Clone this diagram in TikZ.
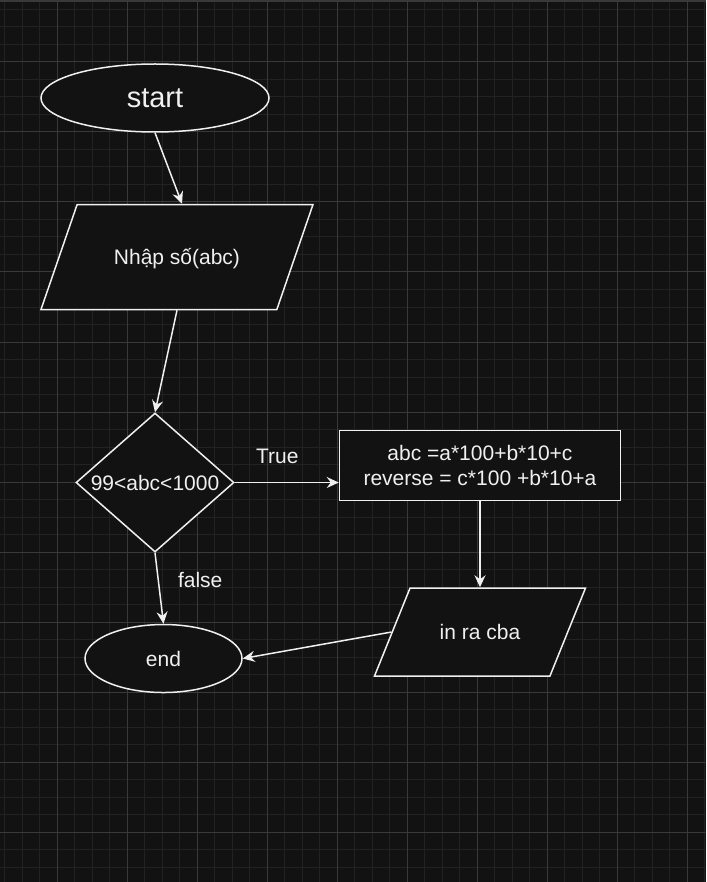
\documentclass[tikz,border=0pt]{standalone}
\usepackage{fontspec}
\setmainfont{Liberation Sans}
\usepackage{xcolor}
\usepackage{tikz}
\usetikzlibrary{shapes,arrows.meta,positioning}

\definecolor{bgdark}{HTML}{121212}
\definecolor{gridminor}{HTML}{222222}
\definecolor{gridmajor}{HTML}{393939}
\definecolor{inkwhite}{HTML}{F0F0F0}

\begin{document}
\begin{tikzpicture}[x=1pt, y=-1pt, node distance=70pt]
    \tikzstyle{chartnode} = [draw=inkwhite, fill=bgdark, line width=1.5pt, text=inkwhite, inner sep=0pt, font=\fontsize{21}{25}\selectfont]
    \tikzstyle{terminal} = [chartnode, ellipse]
    \tikzstyle{io} = [chartnode, trapezium, trapezium stretches body=true, text height=17pt, text depth=3pt]
    \tikzstyle{decision} = [chartnode, diamond, aspect=1.14]
    \tikzstyle{process} = [chartnode, rectangle, align=center]
    \tikzstyle{arrow} = [->, >={Stealth[length=12pt, width=11pt, inset=4pt]}, draw=inkwhite, line width=1.5pt]
    \tikzstyle{tag} = [text=inkwhite, inner sep=0pt, font=\fontsize{21}{25}\selectfont]

    % canvas and grid
    \useasboundingbox (0,0) rectangle (706,882);
    \fill [bgdark] (0,0) rectangle (706,882);
    \fill [gridmajor] (0,0) rectangle (706,2);
    \foreach \x in {4.5,22,...,706} \draw [gridminor, line width=1pt] (\x,2) -- (\x,882);
    \foreach \y in {9.5,27,...,882} \draw [gridminor, line width=1pt] (0,\y) -- (706,\y);
    \foreach \x in {57,127,...,706} \draw [gridmajor, line width=1pt] (\x,2) -- (\x,882);
    \foreach \y in {62,132,...,882} \draw [gridmajor, line width=1pt] (0,\y) -- (706,\y);

    \node [terminal, minimum width=228pt, minimum height=68pt, font=\fontsize{29}{33}\selectfont] (start) at (155,98) {start};
    \node [io, below=71pt of start, xshift=22pt, minimum width=272pt, inner ysep=42.5pt, trapezium left angle=71, trapezium right angle=109] (input) {Nhập số(abc)};
    \node [decision, below=102pt of input, xshift=-22pt, minimum width=158pt, minimum height=139pt] (check) {99<abc<1000};
    \node [process, right=104pt of check, yshift=17pt, minimum width=281pt, minimum height=70pt] (calc) {abc =a*100+b*10+c\\reverse = c*100 +b*10+a};
    \node [io, below=86pt of calc, minimum width=211pt, inner ysep=34pt, trapezium left angle=68, trapezium right angle=112] (output) {in ra cba};
    \node [terminal, below=71pt of check, xshift=8.5pt, minimum width=157pt, minimum height=68pt] (finish) {end};

    \draw [arrow] (start.south) -- ([xshift=5pt]input.north);
    \draw [arrow] (input.south) -- (check.north);
    \draw [arrow] (check.east) -- node [tag, pos=0.41, above=18pt] {True} (check.east -| calc.west);
    \draw [arrow] (calc.south) -- (output.north);
    \draw [arrow] (output.west) -- (finish.east);
    \draw [arrow] (check.south) -- node [tag, pos=0.39, right=19pt] {false} (finish.north);
\end{tikzpicture}
\end{document}
